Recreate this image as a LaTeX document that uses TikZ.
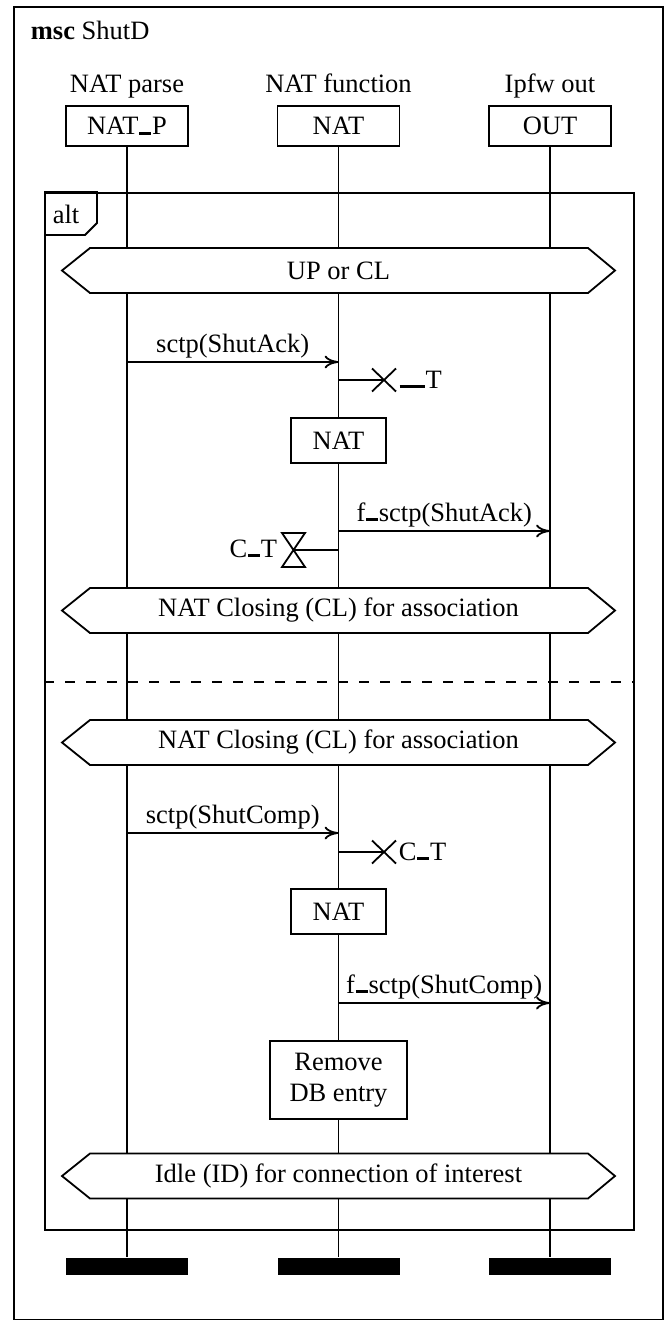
\documentclass[tikz,border=0pt]{standalone}
\usepackage{fontspec}
\setmainfont{Liberation Serif}
\usetikzlibrary{arrows.meta}
% short underscore bar sitting on the baseline
\newcommand\us{\kern0.03em\rule[-0.01em]{0.45em}{0.11em}\kern0.03em}
% double-length underscore bar
\newcommand\uus{\kern0.03em\rule[-0.01em]{0.95em}{0.11em}\kern0.03em}
% condition hexagon spanning all instances: name, centre y, text
\newcommand\condhex[3]{%
  \draw[cond] (62,#2) -- (90,#2-22.5) -- (588,#2-22.5) -- (615,#2)
    -- (588,#2+22.5) -- (90,#2+22.5) -- cycle;
  \node[inner sep=0pt] (#1) at (338.5,#2) {#3};}
% timer set symbol (cross) centred at a named coordinate
\newcommand\timercross[1]{%
  \draw (#1) +(-12,-11.5) -- +(12,11.5) (#1) +(-12,11.5) -- +(12,-11.5);}
\begin{document}
\begin{tikzpicture}[x=1pt,y=-1pt,line width=1.8pt,
  font=\fontsize{26.5}{31}\selectfont,
  inst/.style={draw,minimum width=122pt,minimum height=40pt,inner sep=0pt},
  action/.style={draw,fill=white,inner sep=0pt,align=center},
  endbar/.style={fill=black,minimum width=122pt,minimum height=17pt,inner sep=0pt},
  msg/.style={-{To[length=14pt,width=13pt]}},
  lbl/.style={anchor=base,inner sep=0pt},
  cond/.style={draw,fill=white,line join=miter},
]
\useasboundingbox (0,0) rectangle (666,1321);
% outer msc frame and title
\draw (14,7) rectangle (663,1319.5);
\node[anchor=base west,inner sep=0pt] (title) at (30,40) {\textbf{msc} ShutD};

% instance heads
\node[lbl] (hP) at (127,93) {NAT parse};
\node[lbl] (hN) at (338.5,93) {NAT function};
\node[lbl] (hO) at (550,93) {Ipfw out};
\node[inst] (P) at (127,126) {NAT\us P};
\node[inst] (N) at (338.5,126) {NAT};
\node[inst] (O) at (550,126) {OUT};

% instance ends
\node[endbar] (Pe) at (127,1266.5) {};
\node[endbar] (Ne) at (338.5,1266.5) {};
\node[endbar] (Oe) at (550,1266.5) {};

% lifelines
\draw (P.south) -- (Pe.north);
\draw (N.south) -- (Ne.north);
\draw (O.south) -- (Oe.north);

% alt inline expression
\node[draw,minimum width=589pt,minimum height=1037pt,anchor=north west,inner sep=0pt] (alt) at (44,192) {};
\draw (alt.north west) -- (97,192) -- (97,223) -- (85,235) -- (44,235);
\node[inner sep=0pt] (altlbl) at (66,214) {alt};
\draw[dash pattern=on 10pt off 11pt] (44,682) -- (633,682);

% ---- first operand ----
\condhex{c1}{270.5}{UP or CL}

\coordinate (m1a) at (127,362);
\coordinate (m1b) at (338.5,362);
\draw[msg] (m1a) -- (m1b);
\node[lbl] (m1l) at (232.75,352) {sctp(ShutAck)};

\coordinate (t1a) at (338.5,380);
\coordinate (t1x) at (384,380);
\draw (t1a) -- (t1x);
\timercross{t1x}
\node[anchor=base west,inner sep=0pt] (t1l) at (398,388) {\uus T};

\node[action,minimum width=95pt,minimum height=45pt] (a1) at (338.5,440.5) {NAT};

\coordinate (m2a) at (338.5,531);
\coordinate (m2b) at (550,531);
\draw[msg] (m2a) -- (m2b);
\node[lbl] (m2l) at (444.25,521) {f\us sctp(ShutAck)};

\coordinate (t2a) at (338.5,550);
\coordinate (t2x) at (293.5,550);
\draw (t2a) -- (t2x);
\draw (282,533) -- (305,533) -- (282,567) -- (305,567) -- cycle;
\node[anchor=base east,inner sep=0pt] (t2l) at (278,557) {C\us T};

\condhex{c2}{610.5}{NAT Closing (CL) for association}

% ---- second operand ----
\condhex{c3}{742.5}{NAT Closing (CL) for association}

\coordinate (m3a) at (127,833);
\coordinate (m3b) at (338.5,833);
\draw[msg] (m3a) -- (m3b);
\node[lbl] (m3l) at (232.75,823) {sctp(ShutComp)};

\coordinate (t3a) at (338.5,852);
\coordinate (t3x) at (384,852);
\draw (t3a) -- (t3x);
\timercross{t3x}
\node[anchor=base west,inner sep=0pt] (t3l) at (398,860) {C\us T};

\node[action,minimum width=95pt,minimum height=45pt] (a2) at (338.5,911.5) {NAT};

\coordinate (m4a) at (338.5,1003);
\coordinate (m4b) at (550,1003);
\draw[msg] (m4a) -- (m4b);
\node[lbl] (m4l) at (444.25,993) {f\us sctp(ShutComp)};

\node[action,minimum width=137pt,minimum height=78pt] (a3) at (338.5,1080) {Remove\\DB entry};

\condhex{c4}{1176}{Idle (ID) for connection of interest}
\end{tikzpicture}
\end{document}
